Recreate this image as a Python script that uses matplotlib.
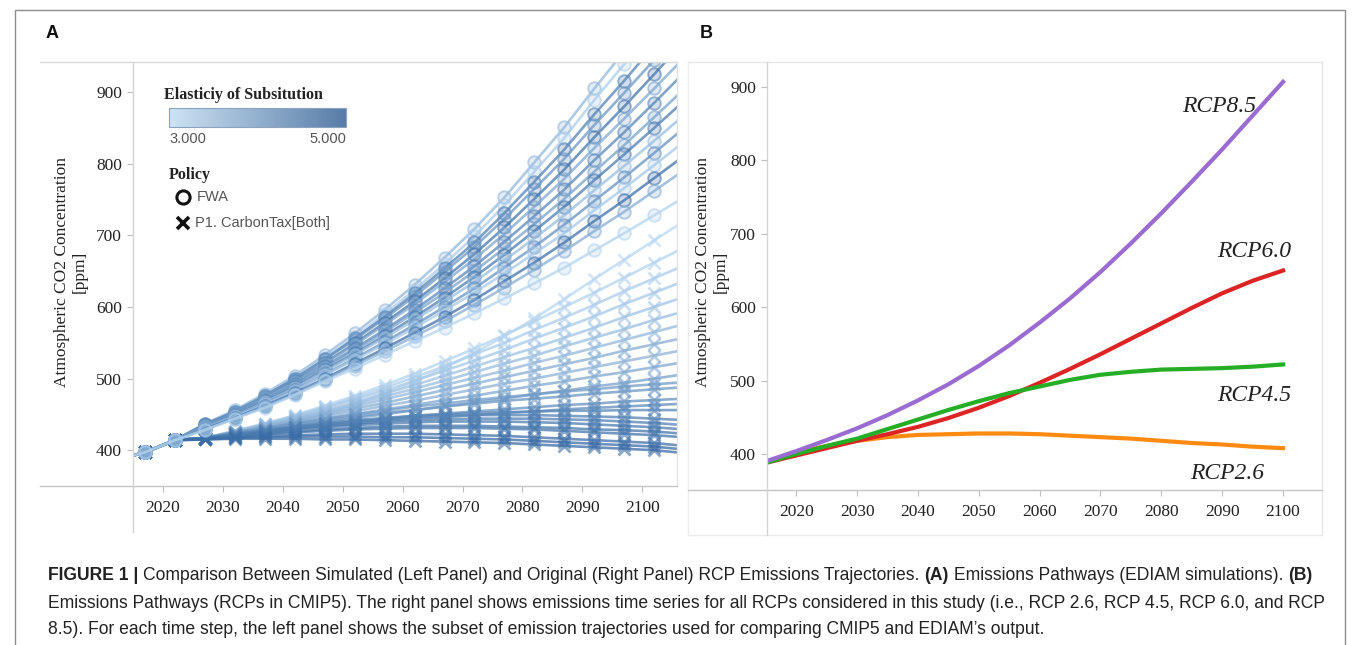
import matplotlib
matplotlib.use("Agg")
import matplotlib.pyplot as plt
from matplotlib.colors import LinearSegmentedColormap, Normalize, to_rgba
from matplotlib.lines import Line2D
from matplotlib.patches import Rectangle
import matplotlib as mpl

# ---- Panel A: EDIAM runs (markers every 5 years) ----
years = [2012, 2017, 2022, 2027, 2032, 2037, 2042, 2047, 2052, 2057,
         2062, 2067, 2072, 2077, 2082, 2087, 2092, 2097, 2102, 2107]
stem = [386, 397, 414]  # shared start of every run

# FWA runs, values from 2027 to 2107
fwa_runs = [
    [437, 456, 479, 504, 533, 563, 596, 631, 669, 709, 753, 802, 851, 905, 957, 1010, 1065],
    [436, 454, 477, 501, 529, 558, 590, 624, 660, 699, 742, 789, 836, 889, 939, 990, 1043],
    [436, 454, 476, 500, 527, 556, 586, 619, 654, 690, 731, 775, 820, 869, 916, 965, 1015],
    [435, 454, 476, 499, 527, 554, 584, 615, 649, 684, 723, 765, 807, 854, 899, 945, 993],
    [435, 452, 473, 496, 522, 549, 578, 608, 640, 674, 711, 751, 792, 837, 880, 925, 971],
    [434, 452, 473, 495, 521, 547, 575, 604, 635, 667, 702, 740, 779, 822, 863, 905, 948],
    [433, 451, 470, 492, 517, 542, 568, 596, 626, 657, 691, 727, 764, 805, 844, 885, 927],
    [433, 450, 470, 491, 515, 539, 565, 592, 620, 650, 682, 716, 751, 789, 826, 865, 904],
    [432, 449, 468, 488, 512, 535, 560, 586, 613, 642, 673, 706, 740, 777, 813, 850, 888],
    [432, 448, 467, 487, 510, 533, 557, 582, 608, 635, 665, 696, 728, 763, 797, 832, 868],
    [431, 447, 465, 484, 506, 528, 551, 575, 600, 626, 655, 684, 715, 748, 781, 815, 850],
    [430, 447, 464, 483, 505, 526, 548, 571, 595, 620, 647, 675, 703, 735, 766, 798, 831],
    [430, 445, 462, 480, 500, 521, 542, 564, 586, 610, 636, 662, 690, 720, 749, 780, 811],
    [429, 444, 461, 478, 498, 518, 538, 559, 580, 603, 627, 652, 678, 706, 733, 762, 791],
    [428, 444, 459, 477, 496, 514, 533, 552, 571, 591, 612, 633, 655, 679, 703, 728, 753],
]
fwa_elast = [3.6, 3.2, 4.6, 4.2, 4.8, 3.9, 4.5, 4.0, 4.7, 3.5, 4.3, 3.3, 4.9, 3.8, 3.1]

# P1. CarbonTax[Both] runs, values from 2027 to 2107
tax_runs = [
    [418, 424, 431, 440, 451, 464, 479, 496, 515, 536, 559, 584, 611, 639, 666, 693, 720],
    [417, 427, 437, 449, 462, 476, 491, 507, 524, 542, 561, 580, 600, 620, 641, 662, 683],
    [417, 427, 437, 448, 460, 473, 487, 502, 517, 534, 550, 568, 585, 603, 622, 640, 658],
    [417, 426, 436, 447, 459, 471, 483, 497, 511, 525, 540, 556, 571, 587, 604, 620, 636],
    [417, 426, 436, 446, 456, 467, 479, 491, 504, 517, 530, 543, 557, 571, 586, 600, 614],
    [417, 426, 435, 444, 454, 464, 475, 486, 497, 509, 521, 532, 545, 557, 569, 582, 594],
    [417, 425, 434, 443, 452, 461, 471, 481, 491, 501, 511, 522, 532, 543, 554, 565, 576],
    [417, 425, 433, 441, 449, 458, 466, 475, 484, 493, 502, 511, 520, 529, 539, 548, 557],
    [417, 424, 432, 439, 447, 454, 462, 469, 477, 485, 493, 500, 508, 516, 524, 532, 540],
    [417, 424, 430, 437, 443, 450, 457, 463, 470, 476, 483, 490, 496, 503, 509, 516, 523],
    [417, 423, 428, 434, 439, 445, 450, 456, 461, 467, 472, 478, 483, 489, 494, 500, 506],
    [417, 425, 431, 438, 444, 450, 455, 461, 465, 470, 474, 478, 482, 485, 489, 492, 495],
    [417, 424, 430, 436, 441, 447, 452, 456, 461, 465, 469, 472, 475, 479, 482, 485, 488],
    [417, 422, 427, 432, 436, 440, 444, 448, 451, 454, 457, 460, 463, 465, 468, 470, 472],
    [417, 422, 426, 430, 434, 437, 441, 444, 446, 449, 452, 454, 457, 459, 461, 463, 465],
    [417, 423, 428, 433, 438, 442, 445, 448, 450, 452, 453, 454, 455, 455, 456, 456, 456],
    [417, 422, 427, 432, 436, 440, 443, 446, 448, 449, 449, 449, 448, 447, 446, 444, 442],
    [417, 422, 426, 430, 434, 437, 440, 442, 443, 444, 444, 444, 443, 442, 440, 438, 435],
    [417, 421, 425, 429, 432, 435, 437, 439, 440, 440, 440, 439, 438, 436, 434, 432, 429],
    [416, 420, 423, 426, 429, 431, 433, 434, 434, 434, 433, 432, 431, 429, 428, 426, 423],
    [416, 419, 422, 425, 427, 429, 430, 431, 431, 431, 430, 429, 427, 425, 423, 421, 418],
    [416, 418, 420, 421, 422, 423, 423, 423, 422, 421, 420, 418, 416, 414, 412, 410, 406],
    [415, 417, 418, 419, 419, 419, 418, 418, 417, 416, 415, 413, 411, 409, 407, 405, 401],
    [415, 416, 416, 416, 415, 415, 414, 413, 412, 411, 410, 408, 406, 404, 402, 400, 396],
]
tax_elast = [3.0, 3.1, 3.2, 3.3, 3.4, 3.5, 3.6, 3.8, 3.7, 3.9, 4.0, 4.1, 4.2,
             4.3, 4.4, 4.5, 4.6, 4.6, 4.7, 4.8, 4.8, 4.9, 5.0, 5.0]

# ---- Panel B: RCP concentrations ----
rcp_years = [2015, 2020, 2025, 2030, 2035, 2040, 2045, 2050, 2055,
             2060, 2065, 2070, 2075, 2080, 2085, 2090, 2095, 2100]
rcp85 = [390, 404, 419, 435, 453, 473, 495, 520, 548, 579, 612, 648, 687, 728, 771, 815, 861, 907]
rcp60 = [388, 398, 408, 418, 427, 437, 449, 463, 479, 497, 516, 536, 557, 578, 599, 619, 636, 650]
rcp45 = [388, 400, 411, 421, 434, 447, 460, 472, 483, 492, 501, 508, 512, 515, 516, 517, 519, 522]
rcp26 = [389, 402, 411, 418, 423, 426, 427, 428, 428, 427, 425, 423, 421, 418, 415, 413, 410, 408]

W, H = 1360, 645
SERIF = ['Liberation Serif', 'DejaVu Serif']
SANS = ['Liberation Sans', 'DejaVu Sans']
NARROW = ['Liberation Sans Narrow', 'Liberation Sans', 'DejaVu Sans']


def fx(x):
    return x / W


def fy(y):
    return 1 - y / H


def fig_line(fig, xs, ys, color, lw=1.0):
    fig.add_artist(Line2D([fx(v) for v in xs], [fy(v) for v in ys],
                          color=color, lw=lw, transform=fig.transFigure))


def style_axis(ax):
    for s in ax.spines.values():
        s.set_visible(False)
    ax.tick_params(axis='both', length=4, width=0.8, color='#bdbdbd',
                   labelcolor='#222222', labelsize=12.5)
    ax.tick_params(axis='x', pad=6)
    ax.tick_params(axis='y', pad=4)
    for lab in ax.get_xticklabels() + ax.get_yticklabels():
        lab.set_family(SERIF)


def caption(fig):
    r = fig.canvas.get_renderer()

    def width(s, size, bold=False):
        t = fig.text(0, 0, s, fontsize=size, family=NARROW,
                     fontweight='bold' if bold else 'normal')
        w = t.get_window_extent(r).width
        t.remove()
        return w

    line1 = [("FIGURE 1 |", True),
             ("Comparison Between Simulated (Left Panel) and Original (Right Panel) "
              "RCP Emissions Trajectories.", False),
             ("(A)", True), ("Emissions Pathways (EDIAM simulations).", False),
             ("(B)", True)]
    line2 = ("Emissions Pathways (RCPs in CMIP5). The right panel shows emissions time "
             "series for all RCPs considered in this study (i.e., RCP 2.6, RCP 4.5, "
             "RCP 6.0, and RCP")
    line3 = ("8.5). For each time step, the left panel shows the subset of emission "
             "trajectories used for comparing CMIP5 and EDIAM\u2019s output.")

    base = 10
    sp = width("a a", base) - width("aa", base)
    total = sum(width(s, base, b) for s, b in line1) + sp * (len(line1) - 1)
    size = base * (1318 - 48) / total
    sp = sp * size / base

    x = 48
    for s, b in line1:
        t = fig.text(fx(x), fy(576), s, fontsize=size, family=NARROW, color='#222222',
                     fontweight='bold' if b else 'normal', va='center', ha='left')
        x += t.get_window_extent(r).width + sp
    fig.text(fx(48), fy(603), line2, fontsize=size, family=NARROW, color='#222222',
             va='center', ha='left')
    fig.text(fx(48), fy(630), line3, fontsize=size, family=NARROW, color='#222222',
             va='center', ha='left')


def generate_figure():
    plt.rcParams['font.family'] = SERIF
    fig = plt.figure(figsize=(W / 100, H / 100), dpi=100)
    fig.add_artist(Rectangle((fx(15), fy(660)), fx(1345) - fx(15), fy(10) - fy(660),
                             transform=fig.transFigure, fill=False,
                             edgecolor='#8c8c8c', lw=1.0))

    # ---------------- Panel A ----------------
    cmap = LinearSegmentedColormap.from_list('elast', ['#b9d8f2', '#3a6ca6'])
    bar_cmap = LinearSegmentedColormap.from_list('bar', ['#cde3f4', '#587ca7'])
    norm = Normalize(3.0, 5.0)

    axA = fig.add_axes([fx(133), fy(486), fx(677) - fx(133), fy(62) - fy(486)])
    marks = slice(1, 19)
    for run, e in zip(tax_runs, tax_elast):
        c = cmap(norm(e))
        axA.plot(years, stem + run, color=to_rgba(c, 0.75), lw=1.9,
                 marker='x', ms=8, mew=2.0, mec=to_rgba(c, 0.6),
                 markevery=marks, zorder=2)
    for run, e in zip(fwa_runs, fwa_elast):
        c = cmap(norm(e))
        axA.plot(years, stem + run, color=to_rgba(c, 0.75), lw=1.9,
                 marker='o', ms=9, mew=1.4, mec=to_rgba(c, 0.6),
                 mfc=to_rgba(c, 0.25), markevery=marks, zorder=3)
    axA.set_xlim(2015, 2105.8)
    axA.set_ylim(350, 942)
    axA.set_xticks([2020, 2030, 2040, 2050, 2060, 2070, 2080, 2090, 2100])
    axA.set_yticks([400, 500, 600, 700, 800, 900])
    style_axis(axA)

    fig_line(fig, [40, 677], [62, 62], '#d9d9d9')
    fig_line(fig, [677, 677], [62, 486], '#e3e3e3')
    fig_line(fig, [40, 677], [486, 486], '#c4c4c4')
    fig_line(fig, [133, 133], [62, 532], '#d4d4d4')

    fig.text(fx(71), fy(272), "Atmospheric CO2 Concentration\n[ppm]", rotation=90,
             ha='center', va='center', fontsize=12.5, color='#222222',
             linespacing=1.15, family=SERIF)

    # legend
    fig.text(fx(164), fy(95), "Elasticiy of Subsitution", fontsize=11.5,
             fontweight='bold', family=SERIF, color='#222222', va='center')
    cax = fig.add_axes([fx(169), fy(127), fx(346) - fx(169), fy(108) - fy(127)])
    cb = mpl.colorbar.ColorbarBase(cax, cmap=bar_cmap, norm=norm, orientation='horizontal')
    cb.set_ticks([])
    cb.outline.set_edgecolor('#8aa3bf')
    cb.outline.set_linewidth(0.8)
    fig.text(fx(169), fy(139), "3.000", fontsize=10.5, family=SANS, color='#555555',
             va='center', ha='left')
    fig.text(fx(346), fy(139), "5.000", fontsize=10.5, family=SANS, color='#555555',
             va='center', ha='right')
    fig.text(fx(169), fy(175), "Policy", fontsize=11.5, fontweight='bold',
             family=SERIF, color='#222222', va='center')
    fig.add_artist(Line2D([fx(183)], [fy(197)], marker='o', ms=9.5, mfc='none',
                          mec='#111111', mew=2.2, transform=fig.transFigure))
    fig.add_artist(Line2D([fx(183)], [fy(223)], marker='x', ms=8.5, mec='#111111',
                          mew=2.6, transform=fig.transFigure))
    fig.text(fx(197), fy(197), "FWA", fontsize=10.5, family=SANS, color='#555555',
             va='center')
    fig.text(fx(195), fy(223), "P1. CarbonTax[Both]", fontsize=10.5, family=SANS,
             color='#555555', va='center')

    # ---------------- Panel B ----------------
    axB = fig.add_axes([fx(767), fy(490), fx(1322) - fx(767), fy(62) - fy(490)])
    axB.plot(rcp_years, rcp26, color='#ff8a12', lw=3.0, zorder=3)
    axB.plot(rcp_years, rcp60, color='#dc2424', lw=3.0, zorder=4)
    axB.plot(rcp_years, rcp45, color='#26ad26', lw=3.0, zorder=5)
    axB.plot(rcp_years, rcp85, color='#9a6bd1', lw=3.0, zorder=6)
    label_kw = dict(style='italic', fontsize=17, ha='center', va='center',
                    color='#222222', family=SERIF)
    axB.text(2089.5, 873, "RCP8.5", **label_kw)
    axB.text(2095.2, 676, "RCP6.0", **label_kw)
    axB.text(2095.2, 480, "RCP4.5", **label_kw)
    axB.text(2090.8, 373, "RCP2.6", **label_kw)
    axB.set_xlim(2015.2, 2106.4)
    axB.set_ylim(351, 934)
    axB.set_xticks([2020, 2030, 2040, 2050, 2060, 2070, 2080, 2090, 2100])
    axB.set_yticks([400, 500, 600, 700, 800, 900])
    style_axis(axB)

    fig_line(fig, [688, 1322], [62, 62], '#e6e6e6')
    fig_line(fig, [1322, 1322], [62, 535], '#e6e6e6')
    fig_line(fig, [688, 688], [62, 535], '#ececec')
    fig_line(fig, [688, 1322], [535, 535], '#ececec')
    fig_line(fig, [688, 1322], [490, 490], '#c4c4c4')
    fig_line(fig, [767, 767], [62, 535], '#d4d4d4')

    fig.text(fx(712), fy(272), "Atmospheric CO2 Concentration\n[ppm]", rotation=90,
             ha='center', va='center', fontsize=12.5, color='#222222',
             linespacing=1.15, family=SERIF)

    # panel letters
    fig.text(fx(52), fy(33), "A", fontsize=13, fontweight='bold', family=SANS,
             ha='center', va='center', color='#111111')
    fig.text(fx(706), fy(33), "B", fontsize=13, fontweight='bold', family=SANS,
             ha='center', va='center', color='#111111')

    caption(fig)
    fig.savefig("out.png", dpi=100)


if __name__ == "__main__":
    generate_figure()
